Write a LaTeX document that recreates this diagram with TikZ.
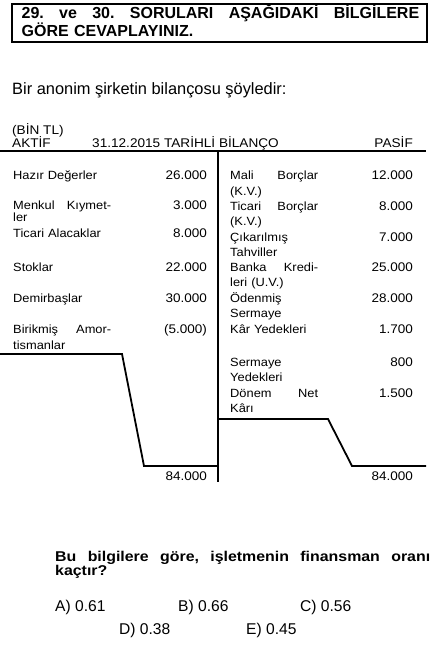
\documentclass[tikz,border=0pt]{standalone}
\usepackage{fontspec}
\setmainfont{Liberation Sans}
\newfontfamily\sorufont[FakeStretch=1.12]{Liberation Sans}
\newfontfamily\tablofont[FakeStretch=1.08]{Liberation Sans}

\begin{document}
\begin{tikzpicture}
		[x=1pt,y=-1pt,every node/.style={inner sep=0pt,anchor=base west},
		 kalemsol/.style={font=\tablofont\fontsize{11.9}{15.3}\selectfont,text width=98pt,align=left},
		 kalemsag/.style={font=\tablofont\fontsize{11.9}{15.3}\selectfont,text width=88pt,align=left},
		 tutar/.style={font=\tablofont\fontsize{12.5}{15.3}\selectfont,anchor=base east},
		 ustyazi/.style={font=\tablofont\fontsize{12.6}{15}\selectfont},
		 cizgi/.style={line width=1.8pt}]
		\useasboundingbox (0,0) rectangle (432,652);
		
		% baslik kutusu
		\draw[line width=2pt] (12,4) rectangle (427,42);
		\node[font=\bfseries\fontsize{16}{15}\selectfont,text width=397.5pt,align=left] (baslik) at (21.5,18.5)
		{29.\hfill ve\hfill 30.\hfill SORULARI\hfill AŞAĞIDAKİ\hfill BİLGİLERE\\GÖRE CEVAPLAYINIZ.};
		\node[font=\fontsize{16.4}{18}\selectfont] (giris) at (12,94.3) {Bir anonim şirketin bilançosu şöyledir:};
		
		% bilanco basligi
		\node[ustyazi] (birim) at (12,134.3) {(BİN TL)};
		\node[ustyazi] (aktif) at (12,147.7) {AKTİF};
		\node[ustyazi] (tarih) at (92,147.7) {31.12.2015 TARİHLİ BİLANÇO};
		\node[ustyazi,anchor=base east] (pasif) at (413,147.7) {PASİF};
		
		\coordinate (ust1) at (0,151);
		\coordinate (ust2) at (426,151);
		\coordinate (orta1) at (218,151);
		\coordinate (orta2) at (218,482);
		\draw[cizgi] (ust1) -- (ust2);
		\draw[cizgi] (orta1) -- (orta2);
		
		% aktif kalemler
		\node[kalemsol] (a1) at (13,180) {Hazır Değerler};
		\node[kalemsol] (a2) at (13,209.3) {Menkul\hfill Kıymet-\\[-2.9pt]ler};
		\node[kalemsol] (a3) at (13,237.3) {Ticari Alacaklar};
		\node[kalemsol] (a4) at (13,271.5) {Stoklar};
		\node[kalemsol] (a5) at (13,302.5) {Demirbaşlar};
		\node[kalemsol] (a6) at (13,333.5) {Birikmiş\hfill Amor-\\[0.7pt]tismanlar};
		\node[tutar] (ad1) at (207,180) {26.000};
		\node[tutar] (ad2) at (207,209.3) {3.000};
		\node[tutar] (ad3) at (207,237.3) {8.000};
		\node[tutar] (ad4) at (207,271.5) {22.000};
		\node[tutar] (ad5) at (207,302.5) {30.000};
		\node[tutar] (ad6) at (207,333.5) {(5.000)};
		\node[tutar] (atop) at (207,480) {84.000};
		
		% pasif kalemler
		\node[kalemsag] (p1) at (230,180) {Mali\hfill Borçlar\\(K.V.)};
		\node[kalemsag] (p2) at (230,210.5) {Ticari\hfill Borçlar\\(K.V.)};
		\node[kalemsag] (p3) at (230,241) {Çıkarılmış\\Tahviller};
		\node[kalemsag] (p4) at (230,271.5) {Banka\hfill Kredi-\\leri (U.V.)};
		\node[kalemsag] (p5) at (230,302.5) {Ödenmiş\\Sermaye};
		\node[kalemsag] (p6) at (230,333.5) {Kâr Yedekleri};
		\node[kalemsag] (p7) at (230,366) {Sermaye\\Yedekleri};
		\node[kalemsag] (p8) at (230,397) {Dönem\hfill Net\\Kârı};
		\node[tutar] (pd1) at (413,180) {12.000};
		\node[tutar] (pd2) at (413,210.5) {8.000};
		\node[tutar] (pd3) at (413,241) {7.000};
		\node[tutar] (pd4) at (413,271.5) {25.000};
		\node[tutar] (pd5) at (413,302.5) {28.000};
		\node[tutar] (pd6) at (413,333.5) {1.700};
		\node[tutar] (pd7) at (413,366) {800};
		\node[tutar] (pd8) at (413,397) {1.500};
		\node[tutar] (ptop) at (413,480) {84.000};
		
		% kapanis cizgileri
		\coordinate (s1) at (0,354);
		\coordinate (s2) at (122,354);
		\coordinate (s3) at (144,466);
		\coordinate (s4) at (218,466);
		\coordinate (g1) at (218,419);
		\coordinate (g2) at (328,419);
		\coordinate (g3) at (352,466);
		\coordinate (g4) at (426,466);
		\draw[cizgi] (s1) -- (s2) -- (s3) -- (s4);
		\draw[cizgi] (g1) -- (g2) -- (g3) -- (g4);
		
		% soru ve secenekler
		\node[font=\sorufont\bfseries\fontsize{14.2}{12.5}\selectfont,text width=375pt,align=left] (soru) at (55,561)
		{Bu\hfill bilgilere\hfill göre,\hfill işletmenin\hfill finansman\hfill oranı\\kaçtır?};
		\foreach \isim/\x/\y/\metin in {sa/55/611/A) 0.61,sb/178/611/B) 0.66,sc/300/611/C) 0.56,sd/119/634/D) 0.38,se/246/634/E) 0.45}
		\node[font=\fontsize{15.6}{17}\selectfont] (\isim) at (\x,\y) {\metin};
		\end{tikzpicture}
\end{document}
